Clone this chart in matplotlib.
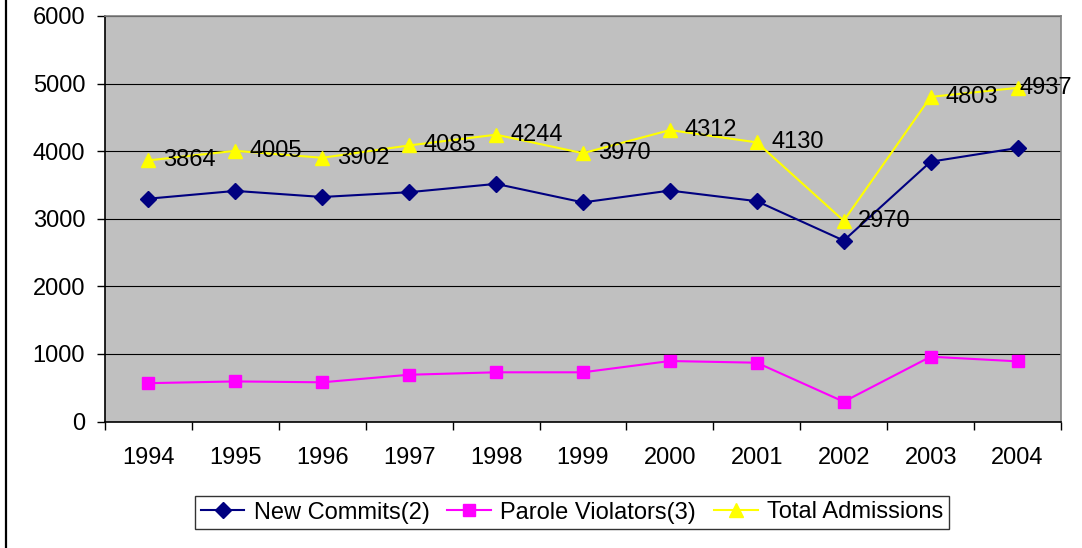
import matplotlib
matplotlib.use("Agg")
from matplotlib import pyplot as plt
from matplotlib.lines import Line2D
from matplotlib.ticker import MultipleLocator, FixedLocator

years = ['1994', '1995', '1996', '1997', '1998', '1999', '2000', '2001', '2002', '2003', '2004']
new_commits = [3297, 3412, 3322, 3393, 3516, 3242, 3417, 3260, 2677, 3844, 4047]
parole_violators = [567, 593, 580, 692, 728, 728, 895, 870, 293, 959, 890]
total_admissions = [3864, 4005, 3902, 4085, 4244, 3970, 4312, 4130, 2970, 4803, 4937]

plt.rcParams['font.family'] = ['Liberation Sans', 'DejaVu Sans']
fs = 17

fig = plt.figure(figsize=(10.82, 5.48), dpi=100)
ax = fig.add_axes([105 / 1082, 1 - 421.5 / 548, (1061 - 105) / 1082, (421.5 - 16) / 548])
ax.set_facecolor('#C0C0C0')

x = list(range(len(years)))
ax.plot(x, new_commits, color='#000080', lw=1.5, marker='D', ms=8, label='New Commits(2)', zorder=3)
ax.plot(x, parole_violators, color='#FF00FF', lw=1.5, marker='s', ms=8.5, label='Parole Violators(3)', zorder=3)
ax.plot(x, total_admissions, color='#FFFF00', lw=1.5, marker='^', ms=9.5, label='Total Admissions', zorder=3)

# data labels for the total series
for i, v in enumerate(total_admissions):
    off = 1.5 if i == len(years) - 1 else 10.5
    ax.annotate(str(v), (i, v), xytext=(off, 0), textcoords='offset points',
                ha='left', va='center', fontsize=fs, color='black', zorder=4)

ax.set_xlim(-0.5, len(years) - 0.5)
ax.set_ylim(0, 6000)
ax.yaxis.set_major_locator(MultipleLocator(1000))
ax.grid(axis='y', color='black', lw=0.8, zorder=1)
ax.set_axisbelow(True)

ax.set_xticks(x)
ax.set_xticklabels(years, fontsize=fs)
ax.xaxis.set_minor_locator(FixedLocator([i - 0.5 for i in range(len(years) + 1)]))
ax.tick_params(axis='x', which='major', length=0, pad=18.5)
ax.tick_params(axis='x', which='minor', length=5.8, width=1, color='black')
ax.tick_params(axis='y', length=5.8, width=1, pad=8.5, labelsize=fs)

for s in ['left', 'bottom']:
    ax.spines[s].set_color('black')
    ax.spines[s].set_linewidth(1.2)
for s in ['top', 'right']:
    ax.spines[s].set_color('#808080')
    ax.spines[s].set_linewidth(1.2)

leg = fig.legend(loc='center', bbox_to_anchor=(572 / 1082, 1 - 512.5 / 548), ncol=3,
                 fontsize=fs, frameon=True, fancybox=False, edgecolor='black',
                 handlelength=1.85, handletextpad=0.4, columnspacing=0.75,
                 borderpad=0.25, borderaxespad=0)
leg.get_frame().set_linewidth(1)

fig.add_artist(Line2D([5.5 / 1082, 5.5 / 1082], [0, 1], color='black', lw=1.6))

fig.savefig('out.png', dpi=100)
